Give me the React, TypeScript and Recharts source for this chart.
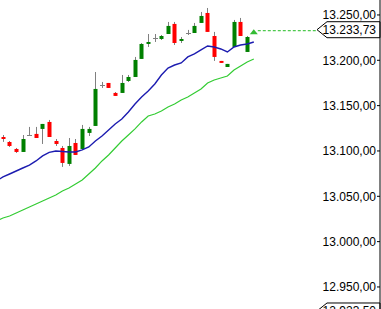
import React from 'react';
import { ComposedChart, Bar, Line, XAxis, YAxis, ReferenceLine } from 'recharts';

// daily candles (oldest first)
const opens = [13115.4, 13109.9, 13102.2, 13098.9, 13117.6, 13118.8, 13124.3, 13132.0, 13111.0, 13103.3, 13085.7, 13108.8, 13102.2, 13119.9, 13127.6, 13172.8, 13175.0, 13164.0, 13164.0, 13177.2, 13181.6, 13201.5, 13218.0, 13224.6, 13223.5, 13229.0, 13240.1, 13221.3, 13230.1, 13230.1, 13241.2, 13252.2, 13226.8, 13199.3, 13192.6, 13214.7, 13242.3, 13209.2];
const highs = [13117.6, 13111.0, 13103.3, 13117.6, 13126.5, 13126.5, 13129.8, 13134.2, 13113.2, 13105.5, 13114.3, 13113.2, 13128.7, 13126.5, 13187.1, 13176.1, 13175.0, 13165.0, 13183.8, 13183.8, 13203.7, 13219.0, 13229.0, 13229.0, 13227.9, 13242.3, 13242.3, 13225.7, 13233.5, 13241.2, 13253.3, 13257.7, 13231.3, 13199.3, 13196.0, 13244.5, 13246.7, 13226.8];
const lows = [13110.0, 13104.4, 13097.8, 13098.9, 13117.0, 13114.3, 13107.7, 13115.4, 13105.5, 13082.4, 13083.5, 13095.6, 13102.2, 13116.5, 13127.6, 13169.5, 13169.5, 13160.7, 13164.0, 13176.1, 13181.6, 13201.5, 13214.7, 13220.2, 13222.4, 13229.0, 13216.9, 13219.1, 13227.9, 13230.1, 13241.2, 13231.3, 13199.3, 13197.1, 13192.6, 13214.7, 13226.8, 13209.2];
const closes = [13113.2, 13105.5, 13098.9, 13113.2, 13117.6, 13114.3, 13129.8, 13115.4, 13107.7, 13086.8, 13105.5, 13095.6, 13124.3, 13124.3, 13168.4, 13172.8, 13169.5, 13160.7, 13175.0, 13181.6, 13200.4, 13218.0, 13220.2, 13224.6, 13226.8, 13237.9, 13219.1, 13223.5, 13230.1, 13237.9, 13248.9, 13231.3, 13203.7, 13197.1, 13196.0, 13242.3, 13226.8, 13225.7];

// moving averages, one value per slot (slot before the first candle .. slot after the last)
const maFast = [13066.9, 13071.3, 13074.6, 13077.9, 13081.2, 13084.5, 13089.0, 13094.5, 13098.4, 13100.0, 13099.4, 13098.9, 13098.9, 13101.1, 13104.4, 13111.0, 13116.5, 13123.2, 13129.8, 13135.3, 13143.0, 13151.8, 13159.6, 13166.2, 13173.9, 13183.8, 13191.5, 13194.8, 13197.1, 13203.7, 13207.0, 13211.4, 13215.8, 13214.7, 13212.5, 13209.2, 13214.7, 13216.9, 13218.0, 13220.2];
const maSlow = [13022.8, 13026.1, 13028.3, 13031.6, 13034.9, 13038.2, 13041.5, 13044.9, 13048.2, 13051.5, 13055.9, 13059.2, 13063.6, 13068.0, 13074.6, 13081.2, 13089.0, 13095.6, 13103.3, 13111.0, 13117.6, 13124.3, 13132.0, 13138.6, 13140.8, 13144.1, 13148.5, 13151.8, 13156.3, 13159.6, 13164.0, 13168.4, 13175.0, 13178.3, 13180.5, 13182.7, 13189.3, 13193.8, 13198.2, 13201.5];

const yTicks = [12950, 13000, 13050, 13100, 13150, 13200, 13250];
const LAST_PRICE = 13233.73;
const LOW_TAG = 12923.5;

const W = 381;
const H = 309;
const RIGHT = 380;
const SLOT = 6.6;
const LEFT_M = -6.9;
const PAD_R = W - 1 - LEFT_M - maFast.length * SLOT;

const data = maFast.map((_, i) => {
  const c = i - 1;
  const has = c >= 0 && c < opens.length;
  return {
    slot: 'd' + i,
    o: has ? opens[c] : null,
    h: has ? highs[c] : null,
    l: has ? lows[c] : null,
    c: has ? closes[c] : null,
    fast: maFast[i],
    slow: maSlow[i],
    last: i === maFast.length - 1 ? LAST_PRICE : null,
  };
});

function fmt(v: number) {
  const [int, dec] = v.toFixed(2).split('.');
  return int.replace(/\B(?=(\d{3})+(?!\d))/g, '.') + ',' + dec;
}

const FONT = '"Liberation Sans", Arial, sans-serif';

function Candle(props: any) {
  const { x, y, width, height, payload } = props;
  if (!payload || payload.o == null) return null;
  const { o, h, l, c } = payload;
  const top = Math.min(y, y + height);
  const hh = Math.abs(height);
  const k = h > l ? hh / (h - l) : 0;
  const py = (v: number) => top + (h - v) * k;
  const xc = Math.round(x + width / 2);
  const bTop = py(Math.max(o, c));
  const bBot = py(Math.min(o, c));
  const color = c > o ? '#008000' : c < o ? '#ff0000' : '#808080';
  return (
    <g>
      <line x1={xc + 0.5} x2={xc + 0.5} y1={top} y2={top + hh} stroke="#808080" strokeWidth={1} />
      {o === c ? (
        <line x1={xc - 2} x2={xc + 3} y1={Math.round(bTop) + 0.5} y2={Math.round(bTop) + 0.5} stroke="#808080" />
      ) : (
        <rect x={xc - 1.5} y={bTop} width={4} height={Math.max(1, bBot - bTop)} fill={color} />
      )}
    </g>
  );
}

function PriceTag({ right, y, text }: { right: number; y: number; text: string }) {
  const t = y - 8;
  const b = y + 8;
  return (
    <g>
      <path
        d={`M${right - 63},${y} L${right - 53},${t} L${right},${t} L${right},${b} L${right - 53},${b} Z`}
        fill="#fff"
        stroke="#000"
        strokeWidth={1}
      />
      <text x={right - 4} y={y} dy="0.36em" textAnchor="end" fontSize={12} fontFamily={FONT} fill="#000">
        {text}
      </text>
    </g>
  );
}

function LastMarker(props: any) {
  const { cx, cy, payload } = props;
  if (!payload || payload.last == null || cy == null) return null;
  return (
    <g>
      <line x1={cx + 4} x2={RIGHT - 63} y1={cy + 1} y2={cy + 1} stroke="#22bb22" strokeDasharray="3 2" />
      <path d={`M${cx},${cy - 0.5} L${cx + 4},${cy + 4.5} L${cx - 4},${cy + 4.5} Z`} fill="#33bb33" />
    </g>
  );
}

const tagShape = (value: number) => (p: any) => {
  const right = Math.max(Number(p.x1) || 0, Number(p.x2) || 0);
  return <PriceTag right={right} y={p.y1} text={fmt(value)} />;
};

export default function App() {
  return (
    <div style={{ position: 'absolute', left: 0, top: 0, width: W, height: H, background: '#fff' }}>
      <ComposedChart width={W} height={H} data={data} margin={{ top: 0, right: 1, bottom: 0, left: LEFT_M }}>
        <XAxis dataKey="slot" type="category" hide padding={{ left: 0, right: PAD_R }} />
        <YAxis
          orientation="right"
          mirror
          type="number"
          domain={[12925.7, 13266.5]}
          allowDataOverflow
          ticks={yTicks}
          interval={0}
          tickFormatter={fmt}
          tickSize={3}
          tickMargin={1}
          axisLine={{ stroke: '#000' }}
          tickLine={{ stroke: '#000' }}
          tick={{ fill: '#000', fontSize: 12, fontFamily: FONT }}
        />
        <Bar
          dataKey={(d: any) => (d.o == null ? null : [d.l, d.h])}
          shape={<Candle />}
          activeBar={false}
          isAnimationActive={false}
        />
        <Line dataKey="slow" stroke="#33cc33" strokeWidth={1.2} dot={false} activeDot={false} isAnimationActive={false} />
        <Line dataKey="fast" stroke="#1c1cb0" strokeWidth={1.4} dot={false} activeDot={false} isAnimationActive={false} />
        <Line dataKey="last" stroke="none" dot={<LastMarker />} activeDot={false} isAnimationActive={false} />
        <ReferenceLine y={LAST_PRICE} ifOverflow="visible" shape={tagShape(LAST_PRICE)} />
        <ReferenceLine y={LOW_TAG} ifOverflow="visible" shape={tagShape(LOW_TAG)} />
      </ComposedChart>
    </div>
  );
}
